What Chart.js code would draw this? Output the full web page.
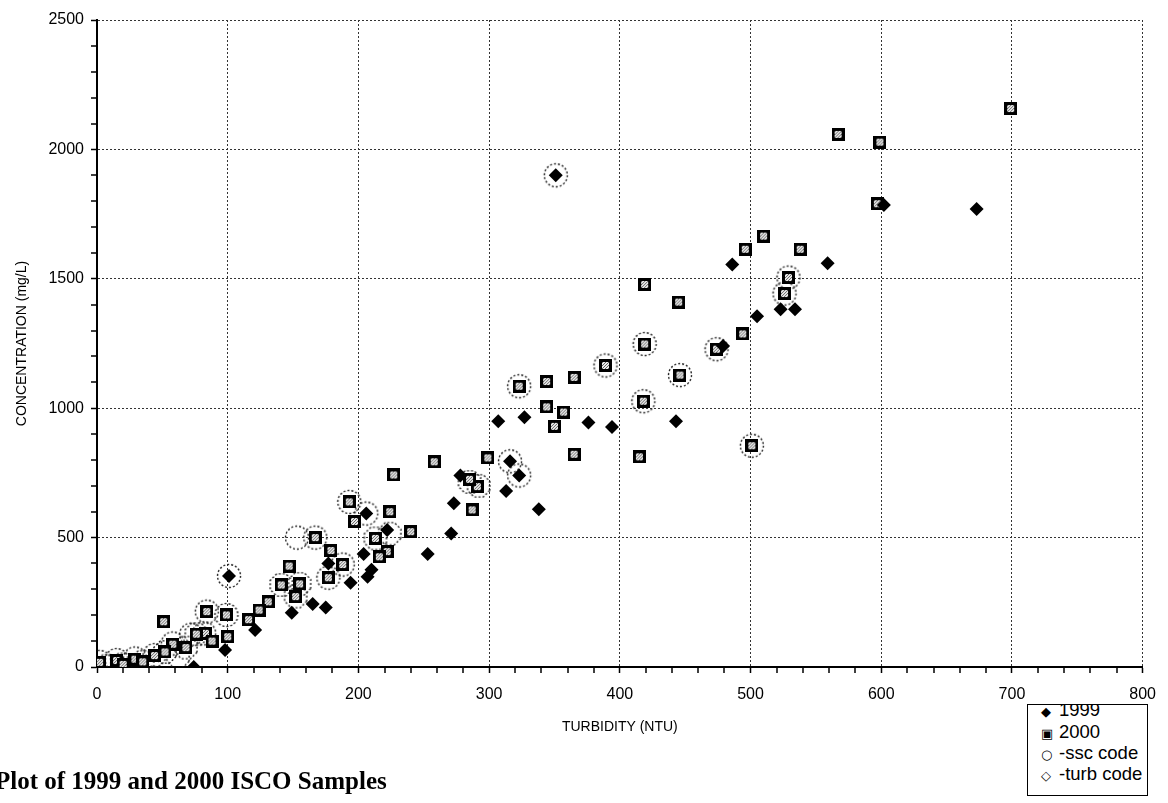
<!DOCTYPE html>
<html>
<head>
<meta charset="utf-8">
<script src="https://cdn.jsdelivr.net/npm/chart.js@4.4.1/dist/chart.umd.min.js"></script>
<style>
  body { margin: 0; background: #fff; }
  #wrap { position: relative; width: 1168px; height: 803px; overflow: hidden; }
  #chart { position: absolute; left: 0; top: 0; }
  #legendBox {
    position: absolute; left: 1027px; top: 704px; width: 119px; height: 90px;
    border: 1.5px solid #000; overflow: hidden; background: #fff;
    font: 18.5px "Liberation Sans", Arial, sans-serif; color: #000;
  }
  #legendBox div { position: absolute; left: 13px; white-space: nowrap; line-height: 20px; }
  #legendBox span.mk { display: inline-block; width: 18px; font-family: "DejaVu Sans", sans-serif; font-size: 13px; }
  #caption {
    position: absolute; left: -5px; top: 767px; white-space: nowrap;
    font: bold 25px "Liberation Serif", "Times New Roman", serif; color: #000;
  }
</style>
</head>
<body>
<div id="wrap">
  <canvas id="chart" width="1168" height="803"></canvas>
  <div id="legendBox">
    <div style="top:-5px"><span class="mk">&#9670;</span>1999</div>
    <div style="top:17px"><span class="mk">&#9635;</span>2000</div>
    <div style="top:38px"><span class="mk">&#9675;</span>-ssc code</div>
    <div style="top:59px"><span class="mk">&#9671;</span>-turb code</div>
  </div>
  <div id="caption">Plot of 1999 and 2000 ISCO Samples</div>
</div>
<script>
// 1999 samples (filled diamonds)
const x1999 = [351, 673, 602, 486, 559, 505, 523, 534, 479, 307, 327, 376, 394, 443, 278, 323, 313, 338,
  273, 271, 253, 204, 210, 207, 206, 222, 194, 177, 175, 165, 149, 101, 121, 98, 74, 316];
const y1999 = [1900, 1770, 1785, 1555, 1560, 1355, 1382, 1382, 1240, 950, 965, 945, 927, 950, 740, 740, 680, 610,
  633, 516, 437, 437, 376, 349, 593, 529, 326, 400, 230, 243, 210, 352, 143, 66, 0, 795];

// 2000 samples (squares)
const x2000 = [699, 567, 599, 597, 510, 496, 538, 419, 445, 494, 529, 526, 474, 419, 389, 446, 418, 323,
  344, 365, 344, 357, 350, 501, 365, 415, 299, 258, 227, 291, 287, 285, 193, 167, 240, 224, 197, 222,
  216, 179, 188, 147, 177, 131, 124, 116, 51, 100, 99, 84, 83, 152, 88, 213, 141, 155, 76, 58, 68, 52,
  44, 29, 15, 2, 35, 20];
const y2000 = [2158, 2058, 2028, 1790, 1665, 1614, 1614, 1478, 1410, 1287, 1505, 1443, 1228, 1248, 1165, 1128, 1027, 1085,
  1103, 1119, 1005, 985, 930, 855, 822, 812, 808, 793, 742, 697, 607, 725, 638, 500, 523, 600, 562, 446,
  426, 450, 396, 390, 345, 252, 220, 183, 175, 117, 201, 214, 130, 272, 100, 497, 317, 321, 127, 88, 75, 58,
  44, 30, 25, 18, 20, 10];

// samples flagged with an ssc code (dotted circles)
const xSsc = [351, 323, 389, 419, 446, 418, 474, 529, 526, 501, 316, 323, 193, 153, 167, 206, 188, 177,
  101, 84, 99, 82, 2, 15, 29, 44, 58, 72];
const ySsc = [1900, 1085, 1165, 1248, 1128, 1027, 1228, 1505, 1443, 855, 795, 740, 638, 500, 500, 593, 396, 345,
  352, 214, 201, 130, 20, 27, 33, 46, 91, 125];

// samples flagged with a turb code (dotted octagons)
const xTurb = [292, 213, 224, 141, 155, 152, 76, 68, 52, 35, 20, 8, 285, 62];
const yTurb = [700, 497, 515, 317, 321, 272, 127, 75, 58, 20, 10, 5, 715, 40];

const xTicks = [];
for (let v = 0; v <= 800; v += 20) xTicks.push(v);
const yTicks = [];
for (let v = 0; v <= 2500; v += 100) yTicks.push(v);

function toPoints(xs, ys) {
  return xs.map((x, i) => ({ x: x, y: ys[i] }));
}

function squareMarker() {
  const c = document.createElement('canvas');
  c.width = 13; c.height = 13;
  const g = c.getContext('2d');
  g.fillStyle = '#000';
  g.fillRect(0, 0, 13, 13);
  g.fillStyle = '#ececec';
  g.fillRect(3, 3, 7, 7);
  g.fillStyle = '#666';
  for (let i = 3; i < 10; i++) {
    for (let j = 3; j < 10; j++) {
      if ((i + j) % 3 === 0) g.fillRect(i, j, 1, 1);
    }
  }
  return c;
}

function ringMarker(sides) {
  const c = document.createElement('canvas');
  c.width = 28; c.height = 28;
  const g = c.getContext('2d');
  g.strokeStyle = '#222';
  g.lineWidth = 1.4;
  g.setLineDash([2, 2]);
  g.beginPath();
  if (!sides) {
    g.arc(14, 14, 11.5, 0, Math.PI * 2);
  } else {
    for (let k = 0; k <= sides; k++) {
      const a = Math.PI / sides + k * 2 * Math.PI / sides;
      const px = 14 + 12 * Math.cos(a), py = 14 + 12 * Math.sin(a);
      if (k === 0) g.moveTo(px, py); else g.lineTo(px, py);
    }
  }
  g.stroke();
  return c;
}

const gridStyle = (step) => ({
  color: (ctx) => (ctx.tick && ctx.tick.value % step === 0) ? '#333' : 'rgba(0,0,0,0)',
  lineWidth: (ctx) => (ctx.tick && ctx.tick.value % step === 0) ? 1 : 0,
  tickColor: '#000',
  tickWidth: 1.5,
  tickLength: 6,
  tickBorderDash: []
});

const chart = new Chart(document.getElementById('chart'), {
  type: 'scatter',
  data: {
    datasets: [
      {
        label: '1999',
        data: toPoints(x1999, y1999),
        pointStyle: 'rectRot',
        pointRadius: 7,
        backgroundColor: '#000',
        borderColor: '#000',
        borderWidth: 0
      },
      {
        label: '2000',
        data: toPoints(x2000, y2000),
        pointStyle: squareMarker()
      },
      {
        label: '-ssc code',
        data: toPoints(xSsc, ySsc),
        pointStyle: ringMarker(0)
      },
      {
        label: '-turb code',
        data: toPoints(xTurb, yTurb),
        pointStyle: ringMarker(8)
      }
    ]
  },
  options: {
    responsive: false,
    animation: false,
    layout: { padding: { left: 0, right: 21, top: 20, bottom: 0 } },
    plugins: { legend: { display: false }, tooltip: { enabled: false } },
    scales: {
      x: {
        type: 'linear',
        min: 0,
        max: 800,
        afterFit: (scale) => { scale.height = 136; },
        afterBuildTicks: (scale) => { scale.ticks = xTicks.map(v => ({ value: v })); },
        ticks: {
          autoSkip: false,
          maxRotation: 0,
          padding: 12,
          color: '#000',
          font: { family: '"Liberation Sans", Arial, sans-serif', size: 16 },
          callback: (v) => (v % 100 === 0 ? String(v) : '')
        },
        grid: gridStyle(100),
        border: { display: true, color: '#000', width: 2, dash: [2, 2] },
        title: {
          display: true,
          text: 'TURBIDITY (NTU)',
          color: '#000',
          font: { family: '"Liberation Sans", Arial, sans-serif', size: 14 },
          padding: { top: 0, bottom: 67 }
        }
      },
      y: {
        type: 'linear',
        min: 0,
        max: 2500,
        afterFit: (scale) => { scale.width = 97; },
        afterBuildTicks: (scale) => { scale.ticks = yTicks.map(v => ({ value: v })); },
        ticks: {
          autoSkip: false,
          padding: 7,
          color: '#000',
          font: { family: '"Liberation Sans", Arial, sans-serif', size: 16 },
          callback: (v) => (v % 500 === 0 ? String(v) : '')
        },
        grid: gridStyle(500),
        border: { display: true, color: '#000', width: 2, dash: [2, 2] },
        title: {
          display: true,
          text: 'CONCENTRATION (mg/L)',
          color: '#000',
          font: { family: '"Liberation Sans", Arial, sans-serif', size: 14 },
          padding: { top: 14, bottom: 0 }
        }
      }
    }
  }
});
</script>
</body>
</html>
